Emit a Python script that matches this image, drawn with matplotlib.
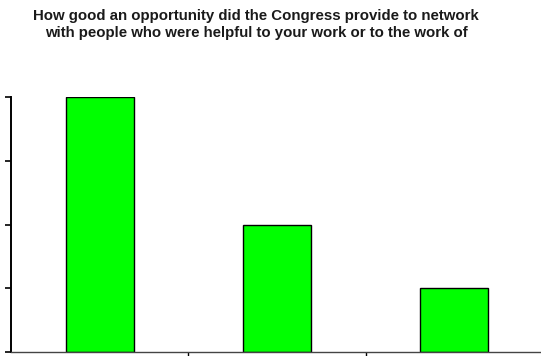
import matplotlib
matplotlib.use("Agg")
import matplotlib.pyplot as plt

# response counts per category
categories = ["Excellent", "Good", "Fair"]
values = [4, 2, 1]
y_ticks = [0, 1, 2, 3, 4]

title_lines = ["How good an opportunity did the Congress provide to network",
               "with people who were helpful to your work or to the work of"]

plt.rcParams["font.family"] = ["Liberation Sans", "DejaVu Sans"]

fig = plt.figure(figsize=(5.41, 3.56), dpi=100)
ax = fig.add_axes([11 / 541, 4 / 356, 532 / 541, 255 / 356])

x = [i + 0.5 for i in range(len(categories))]
ax.bar(x, values, width=0.385, color="#00ff00", edgecolor="black", linewidth=1.0)

ax.set_xlim(0, len(categories))
ax.set_ylim(0, max(y_ticks))
ax.set_yticks(y_ticks)
ax.set_yticklabels([])
ax.set_xticks(range(1, len(categories)))
ax.set_xticklabels([])
ax.tick_params(axis="y", direction="out", length=4, width=1.2)
ax.tick_params(axis="x", direction="out", length=4, width=1.0)

for side in ["top", "right"]:
    ax.spines[side].set_visible(False)
ax.spines["left"].set_linewidth(1.4)
ax.spines["bottom"].set_linewidth(1.0)
ax.spines["bottom"].set_color("#444444")

# two-line bold title, one baseline per line
for line, base in zip(title_lines, [20, 37]):
    fig.text(256 / 541, 1 - base / 356, line, ha="center", va="baseline",
             fontsize=10.8, fontweight="bold", color="#1a1a1a")

fig.savefig("out.png", dpi=100)
